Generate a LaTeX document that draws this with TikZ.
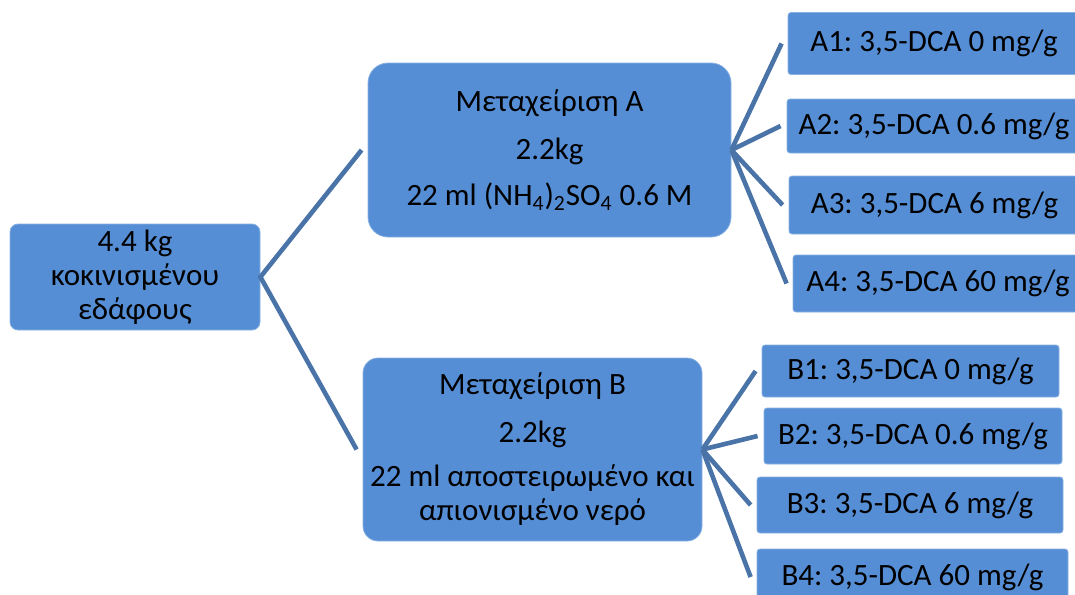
\documentclass[tikz,border=0pt]{standalone}
\usepackage{fontspec}
\setmainfont{Carlito}
\frenchspacing
\definecolor{boxblue}{RGB}{85,142,213}
\definecolor{linkblue}{RGB}{74,116,168}
\tikzset{
  box/.style={fill=boxblue, draw=boxblue!70!white, line width=0.4pt, align=center,
    inner sep=0pt, font=\fontsize{15.5}{17}\selectfont},
  dose/.style={box, rounded corners=1.5pt, minimum height=28pt},
  link/.style={draw=linkblue, line width=2.3pt}
}
\begin{document}
\begin{tikzpicture}[x=0.5pt,y=-0.5pt]
\clip (0,0) rectangle (1075,594);

\node[box, rounded corners=4pt, minimum width=125pt, minimum height=53pt] (soil) at (135,277)
  {4.4 kg\\ κοκινισμένου\\ εδάφους};

\node[box, rounded corners=10pt, minimum width=181.5pt, minimum height=87pt] (ta) at (549.5,150)
  {Μεταχείριση Α\\[7pt] 2.2kg\\[6pt] 22 ml (NH\textsubscript{4})\textsubscript{2}SO\textsubscript{4} 0.6 M};
\node[box, rounded corners=7.5pt, minimum width=169.5pt, minimum height=91.5pt] (tb) at (532.5,449.5)
  {Μεταχείριση B\\[7pt] 2.2kg\\[5pt] 22 ml αποστειρωμένο και\\ απιονισμένο νερό};

% A doses
\node[dose, minimum width=146pt, minimum height=31pt] (a1) at (934,43.5) {A1: 3,5-DCA 0 mg/g};
\node[dose, minimum width=147pt, minimum height=27pt] (a2) at (934,126) {A2: 3,5-DCA 0.6 mg/g};
\node[dose, minimum width=145.5pt, minimum height=29pt] (a3) at (934.5,205) {A3: 3,5-DCA 6 mg/g};
\node[dose, minimum width=145pt, minimum height=28.5pt] (a4) at (938,283.5) {A4: 3,5-DCA 60 mg/g};

% B doses
\node[dose, minimum width=148.5pt, minimum height=26pt] (b1) at (910.5,371) {B1: 3,5-DCA 0 mg/g};
\node[dose, minimum width=149pt, minimum height=28pt] (b2) at (913,436) {B2: 3,5-DCA 0.6 mg/g};
\node[dose, minimum width=153pt, minimum height=28pt] (b3) at (910,505) {B3: 3,5-DCA 6 mg/g};
\node[dose, minimum width=155.5pt, minimum height=28pt] (b4) at (912.5,577) {B4: 3,5-DCA 60 mg/g};

\draw[link] ([xshift=-3pt]ta.west) -- (soil.east) -- ([xshift=-3pt]tb.west);
\foreach \n in {a1,a2,a3,a4}
  \draw[link] (ta.east) -- ([xshift=-3pt]\n.west);
\foreach \n in {b1,b2,b3,b4}
  \draw[link] (tb.east) -- ([xshift=-3pt]\n.west);

\end{tikzpicture}
\end{document}
